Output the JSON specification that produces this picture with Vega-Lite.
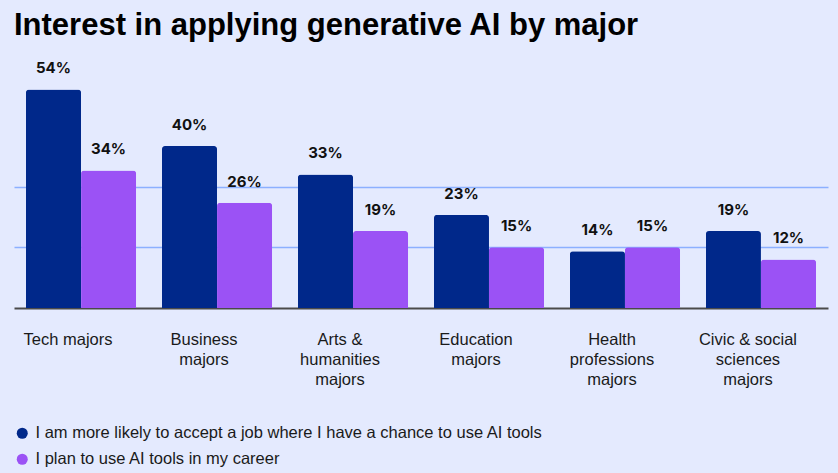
{
  "$schema": "https://vega.github.io/schema/vega-lite/v6.json",
  "width": 814,
  "height": 238,
  "autosize": "none",
  "padding": {"left": 14, "top": 70, "right": 10, "bottom": 165},
  "background": "#e4eafe",
  "title": {
    "text": "Interest in applying generative AI by major",
    "anchor": "start",
    "frame": "group",
    "font": "Liberation Sans",
    "fontSize": 31,
    "fontWeight": "bold",
    "color": "#000000",
    "offset": 19
  },
  "data": {
    "values": [
      {"major": "Tech majors", "series": "I am more likely to accept a job where I have a chance to use AI tools", "value": 0.54},
      {"major": "Tech majors", "series": "I plan to use AI tools in my career", "value": 0.34},
      {"major": "Business majors", "series": "I am more likely to accept a job where I have a chance to use AI tools", "value": 0.40},
      {"major": "Business majors", "series": "I plan to use AI tools in my career", "value": 0.26},
      {"major": "Arts & humanities majors", "series": "I am more likely to accept a job where I have a chance to use AI tools", "value": 0.33},
      {"major": "Arts & humanities majors", "series": "I plan to use AI tools in my career", "value": 0.19},
      {"major": "Education majors", "series": "I am more likely to accept a job where I have a chance to use AI tools", "value": 0.23},
      {"major": "Education majors", "series": "I plan to use AI tools in my career", "value": 0.15},
      {"major": "Health professions majors", "series": "I am more likely to accept a job where I have a chance to use AI tools", "value": 0.14},
      {"major": "Health professions majors", "series": "I plan to use AI tools in my career", "value": 0.15},
      {"major": "Civic & social sciences majors", "series": "I am more likely to accept a job where I have a chance to use AI tools", "value": 0.19},
      {"major": "Civic & social sciences majors", "series": "I plan to use AI tools in my career", "value": 0.12}
    ]
  },
  "encoding": {
    "x": {
      "field": "major",
      "type": "nominal",
      "sort": null,
      "scale": {"paddingInner": 0.19, "paddingOuter": 0.088},
      "axis": {
        "title": null,
        "labelAngle": 0,
        "labelFont": "Liberation Sans",
        "labelFontSize": 16.5,
        "labelColor": "#1a1a1a",
        "labelPadding": 23,
        "labelLineHeight": 20,
        "labelOffset": -13,
        "labelBaseline": "top",
        "ticks": false,
        "domain": true,
        "domainColor": "#4a4a4a",
        "domainWidth": 2,
        "labelExpr": "datum.value == 'Business majors' ? ['Business', 'majors'] : datum.value == 'Arts & humanities majors' ? ['Arts &', 'humanities', 'majors'] : datum.value == 'Education majors' ? ['Education', 'majors'] : datum.value == 'Health professions majors' ? ['Health', 'professions', 'majors'] : datum.value == 'Civic & social sciences majors' ? ['Civic & social', 'sciences', 'majors'] : datum.value"
      }
    },
    "xOffset": {
      "field": "series",
      "type": "nominal",
      "sort": ["I am more likely to accept a job where I have a chance to use AI tools", "I plan to use AI tools in my career"],
      "scale": {"paddingInner": 0, "paddingOuter": 0}
    },
    "y": {
      "field": "value",
      "type": "quantitative",
      "scale": {"domain": [0, 0.588], "nice": false, "zero": true},
      "axis": {
        "title": null,
        "labels": false,
        "ticks": false,
        "domain": false,
        "values": [0.15, 0.30],
        "grid": true,
        "gridColor": "#8cb0ff",
        "gridOpacity": 1,
        "gridWidth": 1.5
      }
    }
  },
  "layer": [
    {
      "mark": {"type": "bar", "cornerRadiusTopLeft": 3, "cornerRadiusTopRight": 3},
      "encoding": {
        "color": {
          "field": "series",
          "type": "nominal",
          "sort": ["I am more likely to accept a job where I have a chance to use AI tools", "I plan to use AI tools in my career"],
          "scale": {
            "domain": ["I am more likely to accept a job where I have a chance to use AI tools", "I plan to use AI tools in my career"],
            "range": ["#00288a", "#9b52f5"]
          },
          "legend": {
            "title": null,
            "orient": "none",
            "legendX": 0,
            "legendY": 355,
            "direction": "vertical",
            "padding": 0,
            "symbolType": "circle",
            "symbolSize": 121,
            "symbolStrokeWidth": 0,
            "labelFont": "Liberation Sans",
            "labelFontSize": 16.5,
            "labelColor": "#1a1a1a",
            "labelOffset": 5,
            "labelLimit": 700,
            "rowPadding": 9
          }
        }
      }
    },
    {
      "mark": {
        "type": "text",
        "baseline": "middle",
        "dy": -21,
        "font": "Inter",
        "fontWeight": 700,
        "fontSize": 15,
        "color": "#111111"
      },
      "encoding": {
        "text": {"field": "value", "type": "quantitative", "format": ".0%"}
      }
    }
  ],
  "config": {
    "view": {"stroke": null}
  }
}
